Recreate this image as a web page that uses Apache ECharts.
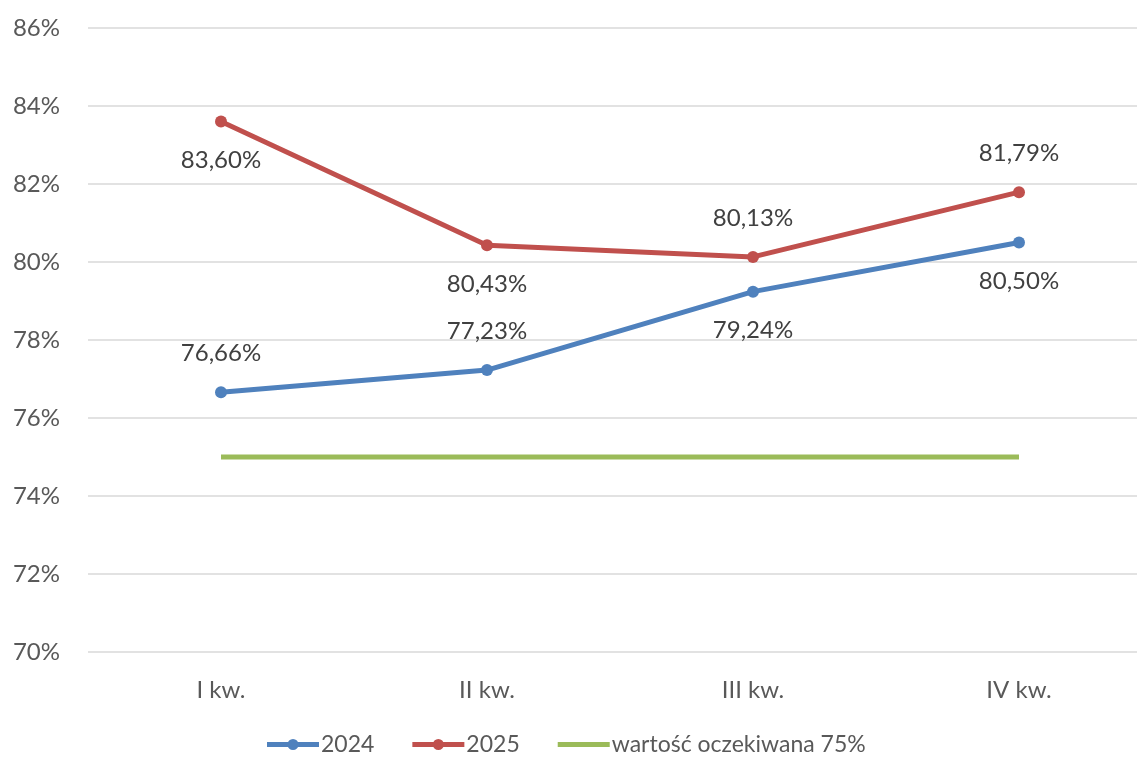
<!DOCTYPE html>
<html><head><meta charset="utf-8">
<script src="https://cdn.jsdelivr.net/npm/echarts@6/dist/echarts.min.js"></script>
<style>html,body{margin:0;padding:0;background:#fff}#c{width:1137px;height:758px}</style>
</head><body><div id="c"></div>
<script>
const categories = ['I kw.', 'II kw.', 'III kw.', 'IV kw.'];
const values2024 = [76.66, 77.23, 79.24, 80.50];
const values2025 = [83.60, 80.43, 80.13, 81.79];
const expected = [75, 75, 75, 75];
const pos2024 = ['top', 'top', 'bottom', 'bottom'];
const pos2025 = ['bottom', 'bottom', 'top', 'top'];

const fmt = v => v.toFixed(2).replace('.', ',') + '%';
const font = 'Lato, "Open Sans", sans-serif';
const lineDot = 'path://M0,3 L52,3 L52,8 L0,8 Z M26,0 A5.5,5.5 0 1 1 26,11 A5.5,5.5 0 1 1 26,0 Z';
const lineOnly = 'path://M0,3 L52,3 L52,8 L0,8 Z M0,0 L0.01,0 L0.01,0.01 Z M0,11 L0.01,11 L0.01,10.99 Z';
function mk(vals, pos) {
  return vals.map((v, i) => ({ value: v, label: { position: pos[i] } }));
}
const chart = echarts.init(document.getElementById('c'));
chart.setOption({
  animation: false,
  grid: { left: 88, top: 28, width: 1064, bottom: 106, outerBoundsMode: 'none', containLabel: false },
  legend: {
    bottom: -3, left: 262, itemWidth: 52, itemHeight: 11, itemGap: 38,
    textStyle: { fontSize: 23, color: '#595959', fontFamily: font, padding: [0, 0, 0, -3] },
    data: [
      { name: '2024', icon: lineDot },
      { name: '2025', icon: lineDot },
      { name: 'wartość oczekiwana 75%', icon: lineOnly }
    ]
  },
  xAxis: {
    type: 'category', data: categories,
    axisLine: { show: false }, axisTick: { show: false },
    axisLabel: { fontSize: 24, color: '#595959', fontFamily: font, margin: 26 }
  },
  yAxis: {
    type: 'value', min: 70, max: 86, interval: 2,
    axisLabel: { fontSize: 24, color: '#595959', fontFamily: font, margin: 28, formatter: v => v + '%' },
    splitLine: { lineStyle: { color: '#d9d9d9', width: 1.5 } }
  },
  series: [
    {
      name: '2024', type: 'line', data: mk(values2024, pos2024),
      symbol: 'circle', symbolSize: 12,
      lineStyle: { color: '#4f81bd', width: 5 }, itemStyle: { color: '#4f81bd' },
      label: { show: true, distance: 21, fontSize: 24, color: '#404040', fontFamily: font, formatter: p => fmt(p.value) }
    },
    {
      name: '2025', type: 'line', data: mk(values2025, pos2025),
      symbol: 'circle', symbolSize: 12,
      lineStyle: { color: '#c0504d', width: 5 }, itemStyle: { color: '#c0504d' },
      label: { show: true, distance: 21, fontSize: 24, color: '#404040', fontFamily: font, formatter: p => fmt(p.value) }
    },
    {
      name: 'wartość oczekiwana 75%', type: 'line', data: expected,
      symbol: 'none', lineStyle: { color: '#9bbb59', width: 5 }, itemStyle: { color: '#9bbb59' }
    }
  ]
});
</script></body></html>
